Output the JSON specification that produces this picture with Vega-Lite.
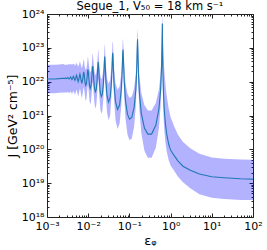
{
  "$schema": "https://vega.github.io/schema/vega-lite/v6.json",
  "width": 206,
  "height": 203,
  "autosize": {"type": "none"},
  "padding": {"left": 47, "top": 14, "right": 14, "bottom": 33},
  "title": {"text": "Segue_1, V₅₀ = 18 km s⁻¹", "fontSize": 11.5, "fontWeight": "normal", "font": "DejaVu Sans", "color": "#000", "offset": -4},
  "config": {
    "view": {"stroke": "#222", "strokeWidth": 1},
    "font": "DejaVu Sans",
    "axis": {"grid": false, "domain": false, "labelFont": "DejaVu Sans", "labelFontSize": 11, "labelColor": "#000", "titleFont": "DejaVu Sans", "titleFontWeight": "normal", "titleColor": "#000", "tickColor": "#222", "labelFlush": false, "labelOverlap": false}
  },
  "data": {"values": [
    {"eps":100,"J":19.12,"lo":18.50,"hi":19.69},
    {"eps":50,"J":19.13,"lo":18.50,"hi":19.70},
    {"eps":20,"J":19.16,"lo":18.53,"hi":19.72},
    {"eps":10,"J":19.19,"lo":18.57,"hi":19.76},
    {"eps":5,"J":19.27,"lo":18.67,"hi":19.87},
    {"eps":3,"J":19.38,"lo":18.85,"hi":20.03},
    {"eps":2,"J":19.50,"lo":19.03,"hi":20.22},
    {"eps":1.5,"J":19.66,"lo":19.20,"hi":20.44},
    {"eps":1.2,"J":19.83,"lo":19.38,"hi":20.70},
    {"eps":1.1,"J":19.90,"lo":19.45,"hi":20.82},
    {"eps":1.0,"J":19.98,"lo":19.52,"hi":20.95},
    {"eps":0.95,"J":20.06,"lo":19.60,"hi":21.08},
    {"eps":0.9,"J":20.15,"lo":19.68,"hi":21.20},
    {"eps":0.85,"J":20.30,"lo":19.81,"hi":21.40},
    {"eps":0.8,"J":20.47,"lo":19.95,"hi":21.60},
    {"eps":0.75,"J":20.75,"lo":20.20,"hi":21.92},
    {"eps":0.72,"J":21.00,"lo":20.42,"hi":22.17},
    {"eps":0.7,"J":21.20,"lo":20.60,"hi":22.38},
    {"eps":0.68,"J":21.50,"lo":20.90,"hi":22.64},
    {"eps":0.67,"J":21.70,"lo":21.10,"hi":22.82},
    {"eps":0.66,"J":21.98,"lo":21.38,"hi":23.05},
    {"eps":0.65,"J":22.30,"lo":21.70,"hi":23.30},
    {"eps":0.64,"J":22.90,"lo":22.30,"hi":23.70},
    {"eps":0.63,"J":23.72,"lo":23.06,"hi":24.04},
    {"eps":0.6055,"J":22.50,"lo":22.02,"hi":22.88},
    {"eps":0.5714,"J":21.75,"lo":21.27,"hi":22.23},
    {"eps":0.5207,"J":21.20,"lo":20.63,"hi":21.77},
    {"eps":0.4375,"J":20.71,"lo":20.05,"hi":21.37},
    {"eps":0.3457,"J":20.45,"lo":19.75,"hi":21.15},
    {"eps":0.28,"J":20.45,"lo":19.75,"hi":21.15},
    {"eps":0.2314,"J":20.63,"lo":19.96,"hi":21.30},
    {"eps":0.1944,"J":21.07,"lo":20.48,"hi":21.67},
    {"eps":0.1745,"J":21.67,"lo":21.18,"hi":22.16},
    {"eps":0.1657,"J":22.26,"lo":21.82,"hi":22.64},
    {"eps":0.1607,"J":22.95,"lo":22.40,"hi":23.33},
    {"eps":0.1575,"J":23.25,"lo":22.66,"hi":23.57},
    {"eps":0.1544,"J":22.96,"lo":22.41,"hi":23.34},
    {"eps":0.1499,"J":22.30,"lo":21.85,"hi":22.68},
    {"eps":0.1429,"J":21.75,"lo":21.27,"hi":22.23},
    {"eps":0.1302,"J":21.24,"lo":20.67,"hi":21.81},
    {"eps":0.1141,"J":20.94,"lo":20.32,"hi":21.56},
    {"eps":0.1008,"J":20.89,"lo":20.27,"hi":21.52},
    {"eps":0.0897,"J":21.04,"lo":20.44,"hi":21.64},
    {"eps":0.08036,"J":21.44,"lo":20.91,"hi":21.97},
    {"eps":0.07491,"J":22.01,"lo":21.58,"hi":22.45},
    {"eps":0.07239,"J":22.53,"lo":22.05,"hi":22.91},
    {"eps":0.07094,"J":22.78,"lo":22.26,"hi":23.16},
    {"eps":0.07,"J":22.95,"lo":22.40,"hi":23.27},
    {"eps":0.06862,"J":22.83,"lo":22.30,"hi":23.21},
    {"eps":0.06684,"J":22.32,"lo":21.87,"hi":22.70},
    {"eps":0.06349,"J":21.76,"lo":21.28,"hi":22.24},
    {"eps":0.05785,"J":21.31,"lo":20.76,"hi":21.86},
    {"eps":0.05143,"J":21.18,"lo":20.60,"hi":21.76},
    {"eps":0.04602,"J":21.41,"lo":20.87,"hi":21.95},
    {"eps":0.0425,"J":21.91,"lo":21.46,"hi":22.36},
    {"eps":0.04079,"J":22.44,"lo":21.97,"hi":22.82},
    {"eps":0.03997,"J":22.78,"lo":22.26,"hi":23.16},
    {"eps":0.039375,"J":22.85,"lo":22.32,"hi":23.17},
    {"eps":0.03879,"J":22.77,"lo":22.25,"hi":23.15},
    {"eps":0.03803,"J":22.45,"lo":21.98,"hi":22.83},
    {"eps":0.03658,"J":21.97,"lo":21.53,"hi":22.41},
    {"eps":0.03407,"J":21.53,"lo":21.01,"hi":22.05},
    {"eps":0.03111,"J":21.40,"lo":20.86,"hi":21.94},
    {"eps":0.02852,"J":21.61,"lo":21.11,"hi":22.11},
    {"eps":0.02678,"J":22.06,"lo":21.63,"hi":22.49},
    {"eps":0.02592,"J":22.47,"lo":21.99,"hi":22.85},
    {"eps":0.02551,"J":22.66,"lo":22.16,"hi":23.04},
    {"eps":0.0252,"J":22.74,"lo":22.22,"hi":23.12},
    {"eps":0.0248,"J":22.61,"lo":22.11,"hi":22.99},
    {"eps":0.02422,"J":22.32,"lo":21.87,"hi":22.70},
    {"eps":0.0233,"J":21.93,"lo":21.48,"hi":22.38},
    {"eps":0.02201,"J":21.63,"lo":21.13,"hi":22.13},
    {"eps":0.02083,"J":21.56,"lo":21.05,"hi":22.07},
    {"eps":0.01974,"J":21.67,"lo":21.18,"hi":22.16},
    {"eps":0.01873,"J":21.99,"lo":21.55,"hi":22.43},
    {"eps":0.0181,"J":22.33,"lo":21.88,"hi":22.71},
    {"eps":0.01774,"J":22.52,"lo":22.04,"hi":22.90},
    {"eps":0.0175,"J":22.58,"lo":22.09,"hi":22.96},
    {"eps":0.01727,"J":22.51,"lo":22.03,"hi":22.89},
    {"eps":0.01693,"J":22.33,"lo":21.88,"hi":22.71},
    {"eps":0.01639,"J":22.02,"lo":21.59,"hi":22.45},
    {"eps":0.01562,"J":21.76,"lo":21.28,"hi":22.24},
    {"eps":0.01491,"J":21.70,"lo":21.21,"hi":22.19},
    {"eps":0.01425,"J":21.80,"lo":21.33,"hi":22.27},
    {"eps":0.01362,"J":22.06,"lo":21.63,"hi":22.49},
    {"eps":0.01323,"J":22.31,"lo":21.86,"hi":22.69},
    {"eps":0.013,"J":22.43,"lo":21.96,"hi":22.81},
    {"eps":0.012857,"J":22.46,"lo":21.99,"hi":22.84},
    {"eps":0.01271,"J":22.42,"lo":21.95,"hi":22.80},
    {"eps":0.0125,"J":22.30,"lo":21.85,"hi":22.68},
    {"eps":0.01215,"J":22.08,"lo":21.66,"hi":22.50},
    {"eps":0.01166,"J":21.86,"lo":21.40,"hi":22.32},
    {"eps":0.0112,"J":21.80,"lo":21.33,"hi":22.27},
    {"eps":0.01077,"J":21.89,"lo":21.43,"hi":22.35},
    {"eps":0.01036,"J":22.10,"lo":21.68,"hi":22.52},
    {"eps":0.01009,"J":22.27,"lo":21.82,"hi":22.65},
    {"eps":0.009943,"J":22.34,"lo":21.88,"hi":22.72},
    {"eps":0.009844,"J":22.36,"lo":21.90,"hi":22.74},
    {"eps":0.009746,"J":22.33,"lo":21.88,"hi":22.71},
    {"eps":0.009602,"J":22.26,"lo":21.82,"hi":22.64},
    {"eps":0.009369,"J":22.11,"lo":21.69,"hi":22.49},
    {"eps":0.009036,"J":21.94,"lo":21.49,"hi":22.39},
    {"eps":0.00872,"J":21.89,"lo":21.43,"hi":22.35},
    {"eps":0.00842,"J":21.96,"lo":21.52,"hi":22.40},
    {"eps":0.008135,"J":22.12,"lo":21.70,"hi":22.50},
    {"eps":0.007953,"J":22.23,"lo":21.79,"hi":22.61},
    {"eps":0.007847,"J":22.27,"lo":21.82,"hi":22.65},
    {"eps":0.007778,"J":22.29,"lo":21.84,"hi":22.67},
    {"eps":0.007608,"J":22.22,"lo":21.78,"hi":22.60},
    {"eps":0.007363,"J":22.07,"lo":21.65,"hi":22.50},
    {"eps":0.006981,"J":21.95,"lo":21.51,"hi":22.40},
    {"eps":0.006627,"J":22.08,"lo":21.66,"hi":22.50},
    {"eps":0.006428,"J":22.19,"lo":21.76,"hi":22.57},
    {"eps":0.0063,"J":22.23,"lo":21.79,"hi":22.61},
    {"eps":0.006176,"J":22.19,"lo":21.76,"hi":22.57},
    {"eps":0.005996,"J":22.09,"lo":21.67,"hi":22.51},
    {"eps":0.005714,"J":22.00,"lo":21.56,"hi":22.44},
    {"eps":0.005452,"J":22.09,"lo":21.67,"hi":22.51},
    {"eps":0.005303,"J":22.16,"lo":21.73,"hi":22.54},
    {"eps":0.005207,"J":22.19,"lo":21.76,"hi":22.57},
    {"eps":0.005113,"J":22.16,"lo":21.73,"hi":22.54},
    {"eps":0.004978,"J":22.09,"lo":21.67,"hi":22.51},
    {"eps":0.004764,"J":22.04,"lo":21.61,"hi":22.47},
    {"eps":0.004563,"J":22.10,"lo":21.68,"hi":22.52},
    {"eps":0.004449,"J":22.14,"lo":21.71,"hi":22.52},
    {"eps":0.004375,"J":22.16,"lo":21.73,"hi":22.54},
    {"eps":0.004303,"J":22.14,"lo":21.71,"hi":22.52},
    {"eps":0.004198,"J":22.10,"lo":21.68,"hi":22.52},
    {"eps":0.004032,"J":22.06,"lo":21.63,"hi":22.49},
    {"eps":0.003875,"J":22.10,"lo":21.68,"hi":22.52},
    {"eps":0.003786,"J":22.13,"lo":21.71,"hi":22.51},
    {"eps":0.003728,"J":22.14,"lo":21.71,"hi":22.52},
    {"eps":0.003588,"J":22.10,"lo":21.68,"hi":22.52},
    {"eps":0.003457,"J":22.08,"lo":21.66,"hi":22.50},
    {"eps":0.003332,"J":22.10,"lo":21.68,"hi":22.52},
    {"eps":0.003214,"J":22.12,"lo":21.70,"hi":22.50},
    {"eps":0.002996,"J":22.09,"lo":21.67,"hi":22.51},
    {"eps":0.0028,"J":22.11,"lo":21.69,"hi":22.49},
    {"eps":0.002622,"J":22.09,"lo":21.67,"hi":22.51},
    {"eps":0.002461,"J":22.10,"lo":21.68,"hi":22.52},
    {"eps":0.002,"J":22.09,"lo":21.67,"hi":22.51},
    {"eps":0.0015,"J":22.08,"lo":21.66,"hi":22.50},
    {"eps":0.001,"J":22.08,"lo":21.66,"hi":22.50}
  ]},
  "layer": [
    {
      "mark": {"type": "area", "color": "#0000ff", "opacity": 0.3, "clip": true},
      "encoding": {
        "x": {"field": "eps", "type": "quantitative",
          "scale": {"type": "log", "domain": [0.001, 100], "nice": false},
          "axis": {"orient": "bottom", "title": "εᵩ", "titleFontSize": 13, "titlePadding": 1,
            "values": [0.001,0.002,0.003,0.004,0.005,0.006,0.007,0.008,0.009,0.01,0.02,0.03,0.04,0.05,0.06,0.07,0.08,0.09,0.1,0.2,0.3,0.4,0.5,0.6,0.7,0.8,0.9,1,2,3,4,5,6,7,8,9,10,20,30,40,50,60,70,80,90,100],
            "labelExpr": "datum.value==0.001?'10⁻³':datum.value==0.01?'10⁻²':datum.value==0.1?'10⁻¹':datum.value==1?'10⁰':datum.value==10?'10¹':datum.value==100?'10²':''",
            "tickSize": {"condition": {"test": "indexof([0.001,0.01,0.1,1,10,100], datum.value) >= 0", "value": -4}, "value": -2},
            "labelPadding": 7}},
        "y": {"field": "lo", "type": "quantitative",
          "scale": {"domain": [18, 24], "nice": false, "zero": false},
          "axis": {"orient": "left", "title": "J [GeV² cm⁻⁵]", "titleFontSize": 12.5, "titlePadding": 2,
            "values": [18,18.301,18.477,18.602,18.699,18.778,18.845,18.903,18.954,19,19.301,19.477,19.602,19.699,19.778,19.845,19.903,19.954,20,20.301,20.477,20.602,20.699,20.778,20.845,20.903,20.954,21,21.301,21.477,21.602,21.699,21.778,21.845,21.903,21.954,22,22.301,22.477,22.602,22.699,22.778,22.845,22.903,22.954,23,23.301,23.477,23.602,23.699,23.778,23.845,23.903,23.954,24],
            "labelExpr": "datum.value==18?'10¹⁸':datum.value==19?'10¹⁹':datum.value==20?'10²⁰':datum.value==21?'10²¹':datum.value==22?'10²²':datum.value==23?'10²³':datum.value==24?'10²⁴':''",
            "tickSize": {"condition": {"test": "datum.value == round(datum.value)", "value": -4}, "value": -2},
            "labelPadding": 7}},
        "y2": {"field": "hi"}
      }
    },
    {
      "mark": {"type": "line", "color": "#1f77b4", "strokeWidth": 1.1, "clip": true},
      "encoding": {
        "x": {"field": "eps", "type": "quantitative",
          "scale": {"type": "log", "domain": [0.001, 100], "nice": false},
          "axis": {"orient": "top", "title": null, "labels": false,
            "values": [0.001,0.002,0.003,0.004,0.005,0.006,0.007,0.008,0.009,0.01,0.02,0.03,0.04,0.05,0.06,0.07,0.08,0.09,0.1,0.2,0.3,0.4,0.5,0.6,0.7,0.8,0.9,1,2,3,4,5,6,7,8,9,10,20,30,40,50,60,70,80,90,100],
            "tickSize": {"condition": {"test": "indexof([0.001,0.01,0.1,1,10,100], datum.value) >= 0", "value": -4}, "value": -2}}},
        "y": {"field": "J", "type": "quantitative",
          "scale": {"domain": [18, 24], "nice": false, "zero": false},
          "axis": {"orient": "right", "title": null, "labels": false,
            "values": [18,18.301,18.477,18.602,18.699,18.778,18.845,18.903,18.954,19,19.301,19.477,19.602,19.699,19.778,19.845,19.903,19.954,20,20.301,20.477,20.602,20.699,20.778,20.845,20.903,20.954,21,21.301,21.477,21.602,21.699,21.778,21.845,21.903,21.954,22,22.301,22.477,22.602,22.699,22.778,22.845,22.903,22.954,23,23.301,23.477,23.602,23.699,23.778,23.845,23.903,23.954,24],
            "tickSize": {"condition": {"test": "datum.value == round(datum.value)", "value": -4}, "value": -2}}}
      }
    }
  ],
  "resolve": {"axis": {"x": "independent", "y": "independent"}}
}
